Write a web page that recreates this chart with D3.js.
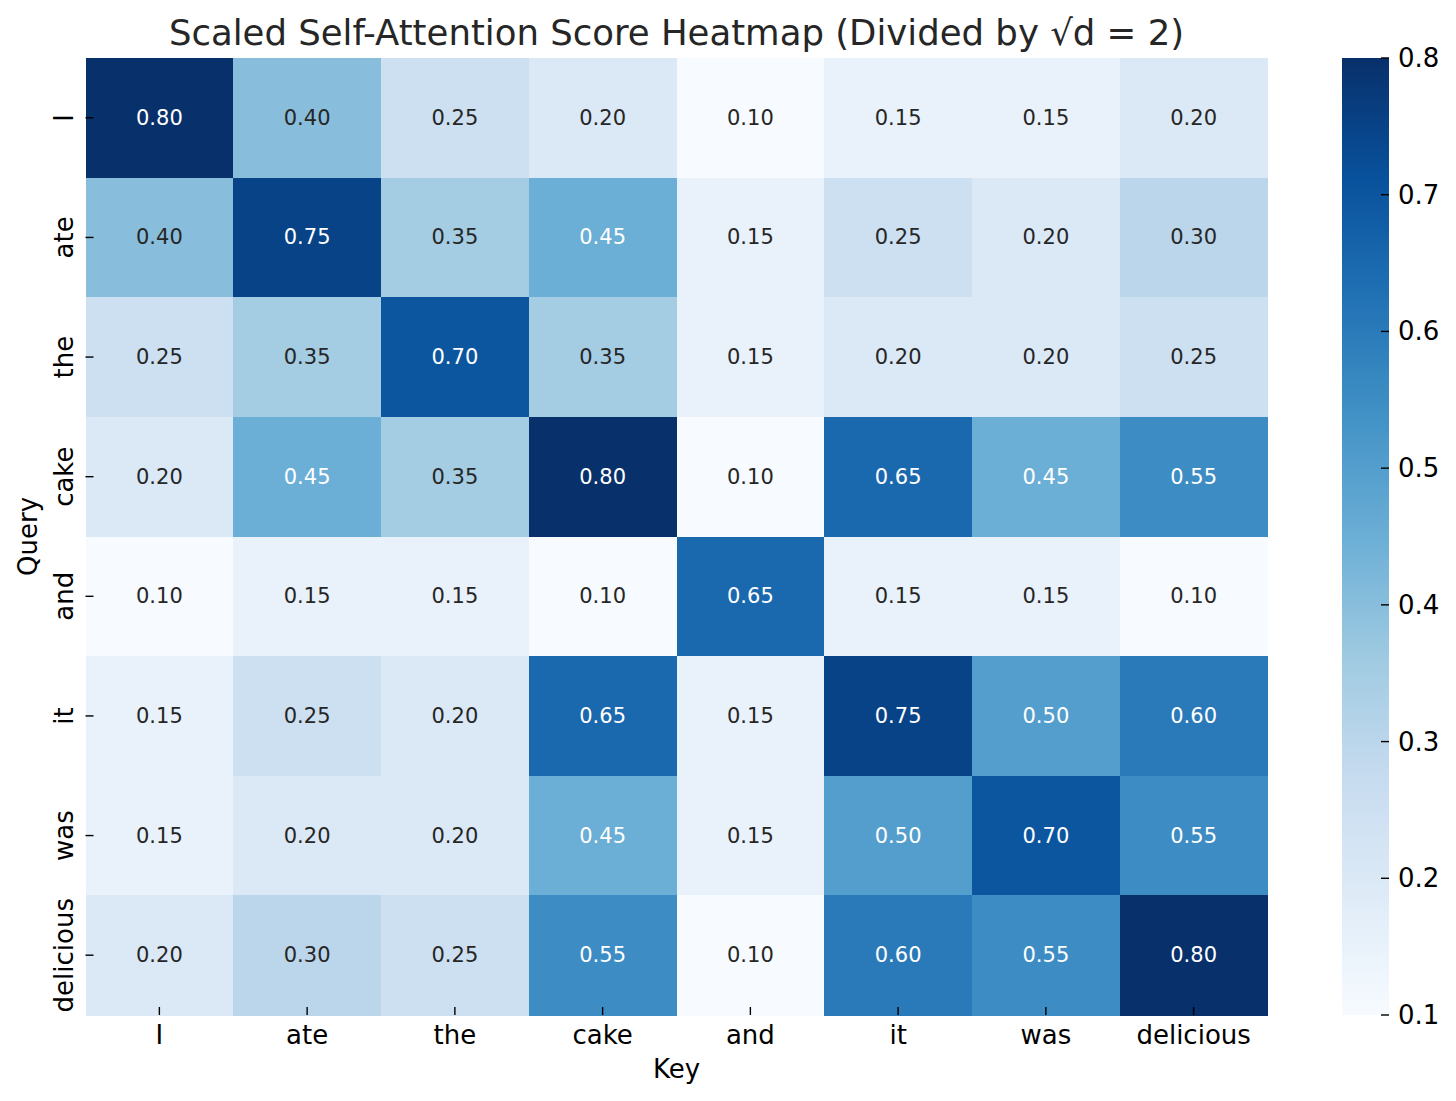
<!DOCTYPE html>
<html>
<head>
<meta charset="utf-8">
<script src="https://cdn.jsdelivr.net/npm/d3@7"></script>
<style>
  body { margin: 0; background: #fff; }
  text { font-family: "DejaVu Sans", sans-serif; }
</style>
</head>
<body>
<div id="chart_div"></div>
<script>
const tokens = ["I", "ate", "the", "cake", "and", "it", "was", "delicious"];

// rows = query, columns = key
const scores = [
    [0.80, 0.40, 0.25, 0.20, 0.10, 0.15, 0.15, 0.20],
    [0.40, 0.75, 0.35, 0.45, 0.15, 0.25, 0.20, 0.30],
    [0.25, 0.35, 0.70, 0.35, 0.15, 0.20, 0.20, 0.25],
    [0.20, 0.45, 0.35, 0.80, 0.10, 0.65, 0.45, 0.55],
    [0.10, 0.15, 0.15, 0.10, 0.65, 0.15, 0.15, 0.10],
    [0.15, 0.25, 0.20, 0.65, 0.15, 0.75, 0.50, 0.60],
    [0.15, 0.20, 0.20, 0.45, 0.15, 0.50, 0.70, 0.55],
    [0.20, 0.30, 0.25, 0.55, 0.10, 0.60, 0.55, 0.80]
];

const colorbarTicks = [0.1, 0.2, 0.3, 0.4, 0.5, 0.6, 0.7, 0.8];

const width = 1456;
const height = 1101;
const plotLeft = 85.5, plotRight = 1267.5, plotTop = 58, plotBottom = 1015;
const cbLeft = 1342, cbRight = 1389;
const tickLen = 8;
const labelSize = "26px";

// matplotlib "Blues" (linear through the brewer stops)
const bluesStops = ["#f7fbff", "#deebf7", "#c6dbef", "#9ecae1", "#6baed6",
    "#4292c6", "#2171b5", "#08519c", "#08306b"];
const blues = d3.scaleLinear()
    .domain(d3.range(bluesStops.length).map(i => i / (bluesStops.length - 1)))
    .range(bluesStops)
    .interpolate(d3.interpolateRgb)
    .clamp(true);
const norm = d3.scaleLinear().domain([0.1, 0.8]).range([0, 1]);
const color = v => blues(norm(v));

const luminance = c => {
    const rgb = d3.rgb(c);
    const lin = [rgb.r, rgb.g, rgb.b].map(v => {
        v /= 255;
        return v <= 0.03928 ? v / 12.92 : Math.pow((v + 0.055) / 1.055, 2.4);
    });
    return 0.2126 * lin[0] + 0.7152 * lin[1] + 0.0722 * lin[2];
};

const x = d3.scaleBand().domain(tokens).range([plotLeft, plotRight]);
const y = d3.scaleBand().domain(tokens).range([plotTop, plotBottom]);

const svg = d3.select("#chart_div")
    .append("svg")
    .attr("width", width)
    .attr("height", height);

const cells = [];
scores.forEach((row, i) => row.forEach((v, j) => cells.push({ q: tokens[i], k: tokens[j], v })));

svg.append("g")
    .selectAll("rect")
    .data(cells)
    .enter()
    .append("rect")
    .attr("x", d => x(d.k))
    .attr("y", d => y(d.q))
    .attr("width", x.bandwidth() + 0.5)
    .attr("height", y.bandwidth() + 0.5)
    .attr("fill", d => color(d.v))
    .attr("shape-rendering", "crispEdges");

svg.append("g")
    .selectAll("text")
    .data(cells)
    .enter()
    .append("text")
    .attr("x", d => x(d.k) + x.bandwidth() / 2)
    .attr("y", d => y(d.q) + y.bandwidth() / 2)
    .attr("text-anchor", "middle")
    .attr("dominant-baseline", "central")
    .attr("font-size", "21px")
    .attr("fill", d => luminance(color(d.v)) > 0.408 ? "#262626" : "#ffffff")
    .text(d => d.v.toFixed(2));

// x axis (ticks point inward)
const xAxis = svg.append("g");
tokens.forEach(t => {
    const cx = x(t) + x.bandwidth() / 2;
    xAxis.append("line")
        .attr("x1", cx).attr("x2", cx)
        .attr("y1", plotBottom).attr("y2", plotBottom - tickLen)
        .attr("stroke", "#000").attr("stroke-width", 1.4);
    xAxis.append("text")
        .attr("x", cx)
        .attr("y", plotBottom + 29)
        .attr("text-anchor", "middle")
        .attr("font-size", labelSize)
        .text(t);
});

// y axis (labels rotated)
const yAxis = svg.append("g");
tokens.forEach(t => {
    const cy = y(t) + y.bandwidth() / 2;
    yAxis.append("line")
        .attr("x1", plotLeft).attr("x2", plotLeft + tickLen)
        .attr("y1", cy).attr("y2", cy)
        .attr("stroke", "#000").attr("stroke-width", 1.4);
    yAxis.append("text")
        .attr("transform", `translate(${plotLeft - 13},${cy}) rotate(-90)`)
        .attr("text-anchor", "middle")
        .attr("font-size", labelSize)
        .text(t);
});

svg.append("text")
    .attr("x", (plotLeft + plotRight) / 2)
    .attr("y", 1078)
    .attr("text-anchor", "middle")
    .attr("font-size", labelSize)
    .text("Key");

svg.append("text")
    .attr("transform", `translate(37,${(plotTop + plotBottom) / 2}) rotate(-90)`)
    .attr("text-anchor", "middle")
    .attr("font-size", labelSize)
    .text("Query");

svg.append("text")
    .attr("x", (plotLeft + plotRight) / 2)
    .attr("y", 45)
    .attr("text-anchor", "middle")
    .attr("font-size", "35.5px")
    .attr("fill", "#262626")
    .text("Scaled Self-Attention Score Heatmap (Divided by \u221Ad = 2)");

// colorbar
const cb = d3.scaleLinear().domain([0.1, 0.8]).range([plotBottom, plotTop]);
const defs = svg.append("defs");
const grad = defs.append("linearGradient")
    .attr("id", "cbgrad")
    .attr("x1", 0).attr("y1", 1).attr("x2", 0).attr("y2", 0);
bluesStops.forEach((c, i) => {
    grad.append("stop")
        .attr("offset", i / (bluesStops.length - 1))
        .attr("stop-color", c);
});
svg.append("rect")
    .attr("x", cbLeft)
    .attr("y", plotTop)
    .attr("width", cbRight - cbLeft)
    .attr("height", plotBottom - plotTop)
    .attr("fill", "url(#cbgrad)");

const cbAxis = svg.append("g");
colorbarTicks.forEach(t => {
    cbAxis.append("line")
        .attr("x1", cbRight - tickLen).attr("x2", cbRight)
        .attr("y1", cb(t)).attr("y2", cb(t))
        .attr("stroke", "#000").attr("stroke-width", 1.4);
    cbAxis.append("text")
        .attr("x", cbRight + 9)
        .attr("y", cb(t))
        .attr("dominant-baseline", "central")
        .attr("font-size", labelSize)
        .text(t.toFixed(1));
});
</script>
</body>
</html>
